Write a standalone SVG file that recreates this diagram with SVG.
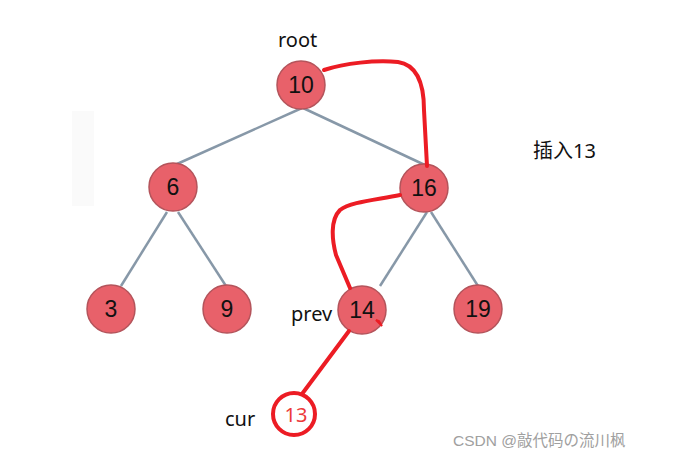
<svg xmlns="http://www.w3.org/2000/svg" width="680" height="459" viewBox="0 0 680 459">
<style>
.n{fill:#e8616a;stroke:#b4545b;stroke-width:1.5}
.t{font-family:"Liberation Sans",Arial,sans-serif;font-size:23px;fill:#111;text-anchor:middle}
.e{stroke:#8798a8;stroke-width:2.5;fill:none}
.r{stroke:#ec1c24;stroke-width:4;fill:none;stroke-linecap:round;stroke-linejoin:round}
.l{font-family:"Noto Sans","Noto Sans CJK SC",sans-serif;font-size:20px;fill:#111}
</style>
<rect width="680" height="459" fill="#fff"/>
<rect x="72" y="111" width="22" height="95" fill="#fafafa"/>
<g id="edges">
<line class="e" x1="302" y1="108" x2="177" y2="164"/>
<line class="e" x1="303" y1="108" x2="427" y2="166"/>
<line class="e" x1="167" y1="212" x2="121" y2="286"/>
<line class="e" x1="178" y1="212" x2="226" y2="286"/>
<line class="e" x1="427" y1="212" x2="380" y2="286"/>
<line class="e" x1="431" y1="212" x2="478" y2="286"/>
</g>
<g id="n10"><circle class="n" cx="301" cy="85" r="24"/><text class="t" x="301" y="93">10</text></g>
<g id="n6"><circle class="n" cx="173" cy="187" r="24"/><text class="t" x="173" y="195">6</text></g>
<g id="n16"><circle class="n" cx="424" cy="188" r="24"/><text class="t" x="424" y="196">16</text></g>
<g id="n3"><circle class="n" cx="111" cy="309" r="24"/><text class="t" x="111" y="317">3</text></g>
<g id="n9"><circle class="n" cx="227" cy="309" r="24"/><text class="t" x="227" y="317">9</text></g>
<g id="n14"><circle class="n" cx="362" cy="310" r="24"/><text class="t" x="362" y="318">14</text></g>
<g id="n19"><circle class="n" cx="478" cy="309" r="24"/><text class="t" x="478" y="317">19</text></g>
<g id="red">
<path class="r" d="M324 70 C345 63 375 60 398 62 C418 65 424 85 424 110 L427 166"/>
<path class="r" d="M400 195 C375 200 350 202 340 210 C330 220 332 240 336 255 L350 288"/>
<line class="r" x1="349" y1="331" x2="302" y2="394"/>
<path d="M376 320 L382 326 L379 321 Z" stroke="#ec1c24" stroke-width="2" fill="#ec1c24"/>
</g>
<g id="n13"><circle cx="294" cy="414" r="21" fill="none" stroke="#ec1c24" stroke-width="4"/><text x="296" y="422" font-family="Noto Sans,sans-serif" font-size="20" fill="#ec3a3a" text-anchor="middle">13</text></g>
<text class="l" x="278" y="47">root</text>
<text class="l" x="291" y="321">prev</text>
<text class="l" x="225" y="426">cur</text>
<text class="l" x="533" y="158" font-size="21">插入13</text>
<text x="453" y="446" font-family="Liberation Sans,'Noto Sans CJK SC',sans-serif" font-size="15.5" fill="#a0a0a0">CSDN @敲代码の流川枫</text>
</svg>
